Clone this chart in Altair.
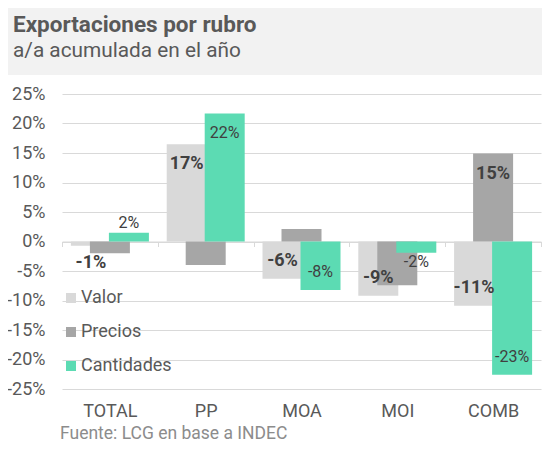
import altair as alt
import pandas as pd

# ---- data ----
categories = ["TOTAL", "PP", "MOA", "MOI", "COMB"]
series = ["Valor", "Precios", "Cantidades"]
valor = [-0.7, 16.5, -6.3, -9.2, -10.9]
precios = [-2.0, -4.0, 2.1, -7.4, 14.9]
cantidades = [1.5, 21.7, -8.2, -1.9, -22.6]
valor_labels = ["-1%", "17%", "-6%", "-9%", "-11%"]
precios_labels = ["", "", "", "", "15%"]
cantidades_labels = ["2%", "22%", "-8%", "-2%", "-23%"]
y_ticks = [25, 20, 15, 10, 5, 0, -5, -10, -15, -20, -25]
colors = ["#d9d9d9", "#a6a6a6", "#5cdbb3"]
title_text = "Exportaciones por rubro"
subtitle_text = "a/a acumulada en el año"
source_text = "Fuente: LCG en base a INDEC"

rows = []
for s, vals, labs in [("Valor", valor, valor_labels),
                      ("Precios", precios, precios_labels),
                      ("Cantidades", cantidades, cantidades_labels)]:
    for c, v, l in zip(categories, vals, labs):
        rows.append({"cat": c, "serie": s, "value": v, "label": l})
df = pd.DataFrame(rows)

W, H = 479, 295
FONT = "Roboto"
GRAY = "#595959"

x_enc = alt.X("cat:N", sort=categories,
              scale=alt.Scale(paddingInner=0, paddingOuter=0),
              axis=alt.Axis(title=None, orient="bottom", offset=-H / 2,
                            labelPadding=156, labelFontSize=18, labelColor=GRAY,
                            labelFont=FONT, labelAngle=0,
                            ticks=True, tickBand="extent", tickSize=5,
                            tickColor="#d9d9d9", domain=True, domainColor="#d9d9d9",
                            grid=False))
y_enc = alt.Y("value:Q",
              scale=alt.Scale(domain=[-25, 25], nice=False, zero=True),
              axis=alt.Axis(title=None, values=y_ticks, labelExpr="datum.value + '%'",
                            labelFontSize=18, labelColor=GRAY, labelFont=FONT,
                            labelPadding=17, ticks=False, domain=False,
                            grid=True, gridColor="#d9d9d9", gridWidth=1.2))

base = alt.Chart(df)

offsets = {"Valor": -19, "Precios": 0, "Cantidades": 19}

color_enc = alt.Color("serie:N",
                      scale=alt.Scale(domain=series, range=colors),
                      legend=alt.Legend(title=None, orient="none", legendX=0, legendY=195,
                                        symbolType="square", symbolSize=100,
                                        symbolStrokeWidth=0, labelFontSize=18,
                                        labelColor=GRAY, labelFont=FONT,
                                        labelOffset=1, rowPadding=16, padding=0))

bars = []
for s in series:
    bars.append(
        base.transform_filter(alt.datum.serie == s)
        .mark_bar(width=40, xOffset=offsets[s])
        .encode(x=x_enc, y=y_enc, color=color_enc)
    )

weights = {"Valor": "bold", "Precios": "bold", "Cantidades": "normal"}
sizes = {"Valor": 18, "Precios": 18, "Cantidades": 16}
small_neg_dy = {"Valor": 17, "Precios": 9, "Cantidades": 9}

texts = []
for s in series:
    placements = [
        ("datum.value >= 3", 20),
        ("datum.value <= -3", -18),
        ("datum.value > 0 && datum.value < 3", -10),
        ("datum.value < 0 && datum.value > -3", small_neg_dy[s]),
    ]
    for cond, dy in placements:
        texts.append(
            base.transform_filter(f"datum.serie == '{s}' && datum.label != '' && ({cond})")
            .mark_text(xOffset=offsets[s], dy=dy, fontWeight=weights[s],
                       fontSize=sizes[s], color="#404040", font=FONT,
                       align="center", baseline="middle")
            .encode(x=x_enc, y=y_enc, text="label:N")
        )

one = alt.Chart(pd.DataFrame({"t": [0]}))
header = one.mark_rect(color="#f2f2f2").encode(
    x=alt.value(-54), x2=alt.value(W + 1), y=alt.value(-86), y2=alt.value(-19))
title = one.mark_text(text=title_text, font=FONT, fontSize=22.5, fontWeight="bold",
                      color=GRAY, align="left", baseline="alphabetic").encode(
    x=alt.value(-49), y=alt.value(-62))
subtitle = one.mark_text(text=subtitle_text, font=FONT, fontSize=20.8,
                         color=GRAY, align="left", baseline="alphabetic").encode(
    x=alt.value(-49), y=alt.value(-37))
source = one.mark_text(text=source_text, font=FONT, fontSize=17.5,
                       color="#8c8c8c", align="left", baseline="alphabetic").encode(
    x=alt.value(-2), y=alt.value(345))

chart = alt.layer(header, *bars, *texts, title, subtitle, source).properties(
    width=W, height=H,
    autosize=alt.AutoSizeParams(type="none"),
    padding={"left": 54, "top": 86, "right": 1, "bottom": 54},
    background="white",
).configure_view(stroke=None)

chart.save("out.html", embed_options={"renderer": "svg", "actions": False})
